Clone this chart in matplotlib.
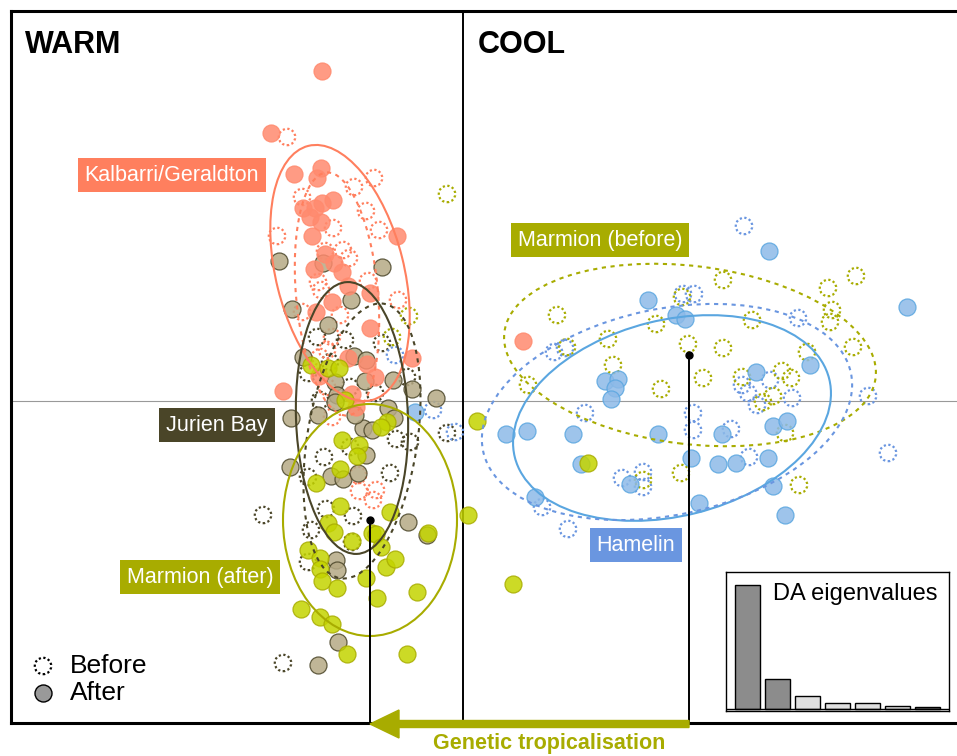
import matplotlib
matplotlib.use('Agg')
import matplotlib.pyplot as plt
from matplotlib.patches import Ellipse, FancyArrow
import numpy as np

plt.rcParams['font.family'] = ['Liberation Sans', 'DejaVu Sans']

# ---------------- data (DA scores, LD1 / LD2) ----------------
kal_after_x = [-141, -192, -169, -142, -146, -130, -141, -160, -148, -153, -142, -151, -66, -138, -129, -121,
               -149, -115, -93, -131, -147, -93, -51, -115, -96, -144, -88, -180, -111, -107, 60]
kal_after_y = [330, 268, 227, 233, 223, 201, 198, 193, 193, 184, 179, 165, 165, 147, 138, 129,
               132, 115, 108, 99, 89, 73, 43, 43, 37, 25, 24, 10, 7, -6, 60]
kal_before_x = [-176, -89, -109, -161, -97, -130, -186, -84, -138, -120, -114, -145, -95, -142, -161, -123,
                -65, -131, -143, -136, -131, -105, -104, -87, -90, -136]
kal_before_y = [264, 223, 214, 204, 190, 173, 165, 171, 150, 151, 143, 119, 120, 111, 89, 86,
                101, 64, 44, 14, -16, -74, -90, -89, -99, 51]

jur_after_x = [-184, -140, -81, -112, -171, -135, -160, -109, -97, -98, -70, -51, -128, -126, -128, -27, -75,
               -172, -173, -132, -120, -105, -97, -100, -91, -69, -108, -145, -55, -36, -127, -126, -125, -145]
jur_after_y = [140, 138, 134, 101, 92, 76, 44, 45, 41, 20, 21, 12, 19, 6, -1, 3, -7,
               -17, -66, -75, -78, -72, -54, -27, -29, -17, -14, -14, -121, -134, -159, -169, -241, -264]
jur_before_x = [-146, -118, -81, -56, -133, -155, -113, -88, -143, -67, -53, -139, -113, -155, -73, -137,
                -110, -152, -111, -200, -180, -16, -155]
jur_before_y = [64, 61, 58, 24, 39, 28, 14, 8, 1, -38, -41, -56, -46, -76, -72, -108,
                -115, -129, -141, -114, -262, -32, -161]

mar_after_x = [-152, -135, -124, -118, -76, -82, -121, -104, -106, -123, -147, -123, -73, -135, -129, -111,
               -91, -87, -82, -35, 5, -155, -143, -143, -141, -126, -97, -77, -68, -86, -46, -162,
               -143, -131, -116, -56, 14, 50, 125]
mar_after_y = [36, 33, 33, 1, -21, -26, -39, -44, -55, -68, -82, -105, -111, -122, -131, -140,
               -132, -133, -146, -132, -114, -149, -157, -168, -180, -187, -177, -166, -158, -197, -191, -208,
               -216, -223, -253, -253, -20, -183, -62]
mar_before_x = [94, 145, 104, 150, 65, 198, 225, 260, 240, 260, 289, 279, 319, 328, 310, 300,
                344, 365, 393, 369, 367, 390, 322, 336, 218, 180, 219, 193, -16, -54, -71]
mar_before_y = [86, 62, 54, 36, 16, 12, 57, 121, 23, 53, 81, 24, 30, 23, 5, -1,
                49, 113, 125, 91, 79, 54, -32, -84, -72, -79, 104, 77, 207, 85, 64]

ham_after_x = [306, 444, 185, 213, 222, 142, 155, 152, 148, 293, 347, 310, 324, 43, 64, 110,
               195, 259, 228, 255, 273, 305, 118, 167, 72, 310, 236, 322, -48]
ham_after_y = [150, 94, 101, 86, 82, 20, 22, 13, 2, 29, 36, -25, -20, -33, -30, -33,
               -33, -33, -57, -63, -62, -57, -63, -83, -96, -85, -102, -114, -11]
ham_before_x = [281, 220, 231, 335, 91, 102, 122, 230, 230, 268, 279, 285, 307, 329, 294, 405,
                286, 425, 159, 180, 180, 79, 105, -68, -30, -8]
ham_before_y = [175, 107, 107, 83, 49, 53, -12, -12, -29, -28, 16, 8, 21, 3, -4, 5,
                -56, -52, -77, -71, -86, -106, -128, 46, -9, -31]

# ellipses: centre x, centre y, major, minor, angle
ell_names = ['kal_a', 'kal_b', 'jur_a', 'jur_b', 'mar_a', 'mar_b', 'ham_a', 'ham_b']
ell_cx = [-123, -126, -111, -101, -93, 227, 209, 204]
ell_cy = [128, 107, -17, -40, -119, 46, -17, -11]
ell_w = [262, 244, 272, 278, 174, 374, 324, 376]
ell_h = [128, 82, 112, 110, 232, 178, 196, 206]
ell_ang = [104, 95, 92, 81, 0, -7, 14, 12]

# centroids of Marmion after / before
cent_x = [-93, 226]
cent_y = [-119, 46]

eigen = [124, 30, 13, 6, 6, 3, 2]

labels = ['Kalbarri/Geraldton', 'Marmion (before)', 'Jurien Bay', 'Marmion (after)', 'Hamelin']
label_x = [-291, 137, -246, -263, 173]
label_y = [226, 161, -24, -176, -144]

# ---------------- styling ----------------
C_KAL = '#FF7F5E'
C_KAL_F = '#FF8A6E'
C_JUR = '#4A4528'
C_JUR_F = '#B5A985'
C_MAR = '#A8AC00'
C_MAR_F = '#C3D400'
C_HAM = '#6A96E0'
C_HAM_F = '#8DBAE8'
C_HAM_E = '#5AA6E0'

W, H = 957, 756
fig = plt.figure(figsize=(W / 100, H / 100), dpi=100)
L, R, B, T = 11, 975, 723, 11
ax = fig.add_axes([L / W, 1 - B / H, (R - L) / W, (B - T) / H])
ax.set_xlim(L - 463, R - 463)
ax.set_ylim(401 - B, 401 - T)
ax.set_xticks([])
ax.set_yticks([])
for s in ax.spines.values():
    s.set_linewidth(2.2)
    s.set_color('black')

ax.axhline(0, color='#999999', lw=0.8, zorder=0)
ax.axvline(0, color='black', lw=1.4, zorder=1)

S_FILL = 150
S_DOT = 140
dot_ls = (0, (1, 1.1))


def dotted(x, y, col, z):
    ax.scatter(x, y, s=S_DOT, facecolors='none', edgecolors=col, linewidths=1.6,
               linestyles=[dot_ls], zorder=z)


def filled(x, y, fc, ec, z):
    ax.scatter(x, y, s=S_FILL, facecolors=fc, edgecolors=ec, linewidths=0.9,
               alpha=0.85, zorder=z)


dotted(jur_before_x, jur_before_y, C_JUR, 2)
dotted(kal_before_x, kal_before_y, C_KAL, 2)
dotted(ham_before_x, ham_before_y, C_HAM, 2)
dotted(mar_before_x, mar_before_y, C_MAR, 2)
filled(jur_after_x, jur_after_y, C_JUR_F, C_JUR, 3)
filled(kal_after_x, kal_after_y, C_KAL_F, C_KAL_F, 3)
filled(ham_after_x, ham_after_y, C_HAM_F, C_HAM_E, 3)
filled(mar_after_x, mar_after_y, C_MAR_F, C_MAR, 3)

ell_col = {'kal': C_KAL, 'jur': C_JUR, 'mar': C_MAR, 'ham': C_HAM_E}
for n, cx, cy, w, h, a in zip(ell_names, ell_cx, ell_cy, ell_w, ell_h, ell_ang):
    grp, kind = n.split('_')
    col = ell_col[grp]
    if grp == 'ham' and kind == 'b':
        col = C_HAM
    ls = '-' if kind == 'a' else (0, (2, 2.2))
    e = Ellipse((cx, cy), w, h, angle=a, fill=False, edgecolor=col, lw=1.5, ls=ls, zorder=4)
    ax.add_patch(e)

# centroid links
for cx, cy in zip(cent_x, cent_y):
    ax.plot([cx, cx], [cy, 401 - B], color='black', lw=1.4, zorder=5)
    ax.plot([cx], [cy], 'o', color='black', ms=5, zorder=6)

# arrow
arr = FancyArrow(cent_x[1], 401 - B - 1, cent_x[0] - cent_x[1], 0, width=7, head_width=28,
                 head_length=29, length_includes_head=True, color=C_MAR, clip_on=False, zorder=10)
ax.add_patch(arr)

# group labels
label_cols = [C_KAL, C_MAR, C_JUR, C_MAR, C_HAM]
for t, x, y, c in zip(labels, label_x, label_y, label_cols):
    ax.text(x, y, t, color='white', fontsize=15.5, ha='center', va='center', zorder=8,
            bbox=dict(boxstyle='square,pad=0.32', fc=c, ec='none'))

fig.text(25 / W, 1 - 45 / H, 'WARM', fontsize=22, fontweight='bold', va='center')
fig.text(478 / W, 1 - 45 / H, 'COOL', fontsize=22, fontweight='bold', va='center')
fig.text(549 / W, 1 - 744 / H, 'Genetic tropicalisation', fontsize=15.5, fontweight='bold',
         color=C_MAR, ha='center', va='center')

# legend
ax.scatter([43 - 463], [401 - 666], s=S_DOT, facecolors='none', edgecolors='black',
           linewidths=1.6, linestyles=[dot_ls], zorder=7)
ax.scatter([43 - 463], [401 - 693], s=S_FILL, facecolors='#999999', edgecolors='black',
           linewidths=1.0, zorder=7)
ax.text(70 - 463, 401 - 666, 'Before', fontsize=19, va='center', ha='left')
ax.text(70 - 463, 401 - 693, 'After', fontsize=19, va='center', ha='left')

# inset eigenvalues
iax = fig.add_axes([726 / W, 1 - 711 / H, 223 / W, 139 / H])
bar_cols = ['#8C8C8C', '#8C8C8C', '#E0E0E0', '#E0E0E0', '#E0E0E0', '#E0E0E0', '#6E6E6E']
iax.bar(np.arange(len(eigen)), eigen, width=0.83, color=bar_cols, edgecolor='black', linewidth=1.0)
iax.axhline(0, color='black', lw=1.0)
iax.set_xlim(-0.72, len(eigen) - 1 + 0.72)
iax.set_ylim(-2, 137)
iax.set_xticks([])
iax.set_yticks([])
for s in iax.spines.values():
    s.set_linewidth(1.0)
iax.text(0.95, 0.84, 'DA eigenvalues', transform=iax.transAxes, ha='right', va='center', fontsize=17)

fig.savefig('out.png', dpi=100)
